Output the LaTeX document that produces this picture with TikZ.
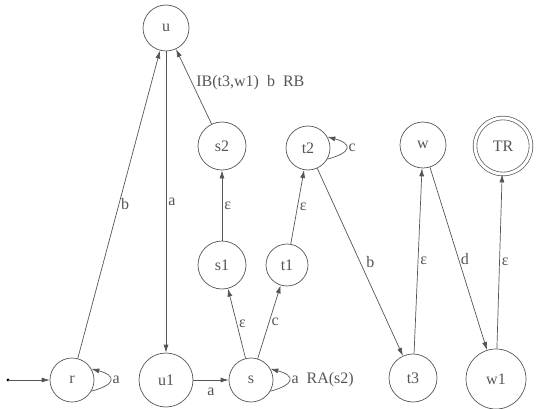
\documentclass[tikz,border=0pt]{standalone}
\usepackage{fontspec}
\setmainfont{Liberation Serif}
\usetikzlibrary{arrows.meta}
\tikzset{>={Latex[length=8pt,width=5pt]}}
\definecolor{stroke}{RGB}{85,85,85}

\begin{document}
\begin{tikzpicture}[x=1pt, y=-1pt]
            \tikzset{state/.style={circle, draw=stroke, line width=0.7pt, inner sep=0pt, text=stroke, font=\fontsize{16}{18}\selectfont}}
            \tikzset{edge/.style={->, draw=stroke, line width=0.7pt}}
            \tikzset{lbl/.style={text=stroke, inner sep=2pt, font=\fontsize{16}{18}\selectfont}}
            \useasboundingbox (0, 0) rectangle (538, 409);
            % top row
            \node[state, minimum size=46] (u) at (166, 28) {u};
            % middle rows
            \node[state, minimum size=48] (s2) at (222, 146) {s2};
            \node[state, minimum size=44] (t2) at (308, 148) {t2};
            \node[state, minimum size=46] (w) at (423, 145) {w};
            \node[state, minimum size=56, double, double distance=3pt] (TR) at (503, 146) {TR};
            \node[state, minimum size=48] (s1) at (222, 265) {s1};
            \node[state, minimum size=42] (t1) at (287, 265) {t1};
            % bottom row
            \coordinate (start) at (8, 380);
            \node[state, minimum size=44] (r) at (72, 380) {r};
            \node[state, minimum size=54] (u1) at (166, 380) {u1};
            \node[state, minimum size=44] (s) at (251, 380) {s};
            \node[state, minimum size=48] (t3) at (413, 378) {t3};
            \node[state, minimum size=60] (w1) at (496, 379) {w1};
            % edges
            \fill[stroke] (start) circle (1.6);
            \draw[edge] (start) -- (r);
            \draw[edge] (r.-30) .. controls +(-15:26) and +(15:26) .. node[lbl, right] {a} (r.30);
            \draw[edge] (r) -- node[lbl, right] {b} (u);
            \draw[edge] (u) -- node[lbl, right] {a} (u1);
            \draw[edge] (u1) -- node[lbl, below, yshift=-6pt] {a} (s);
            \draw[edge] (s.-30) .. controls +(-15:26) and +(15:26) .. node[lbl, right] {a\ \ RA(s2)} (s.30);
            \draw[edge] (s) -- node[lbl, right] {ε} (s1);
            \draw[edge] (s) -- node[lbl, right] {c} (t1);
            \draw[edge] (s1) -- node[lbl, right] {ε} (s2);
            \draw[edge] (s2) -- node[lbl, right, pos=0.55, xshift=2pt] {IB(t3,w1)\ \ b\ \ RB} (u);
            \draw[edge] (t1) -- node[lbl, right] {ε} (t2);
            \draw[edge] (t2.-30) .. controls +(-15:26) and +(15:26) .. node[lbl, right] {c} (t2.30);
            \draw[edge] (t2) -- node[lbl, right, xshift=4pt] {b} (t3);
            \draw[edge] (t3) -- node[lbl, right] {ε} (w);
            \draw[edge] (w) -- node[lbl, right] {d} (w1);
            \draw[edge] (w1) -- node[lbl, right] {ε} (TR);
\end{tikzpicture}
\end{document}
